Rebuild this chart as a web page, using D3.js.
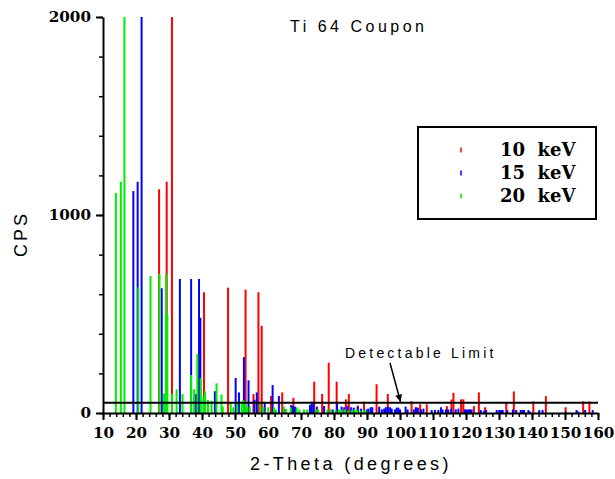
<!DOCTYPE html>
<html>
<head>
<meta charset="utf-8">
<script src="https://cdnjs.cloudflare.com/ajax/libs/d3/7.8.5/d3.min.js"></script>
<style>
  body { margin: 0; background: #fff; }
  .tick text { font-family: "DejaVu Serif", serif; font-weight: bold; font-size: 15.2px; fill: #000; }
  .lbl { font-family: "Liberation Sans", Arial, sans-serif; fill: #000; }
</style>
</head>
<body>
<div class="chart"></div>
<script>
// [2-theta, cps]; the tall ones are clipped at 2000
const peaks10 = [
  [27.0, 1130], [29.3, 1168], [30.9, 2000], [40.6, 610], [47.9, 633], [53.2, 623],
  [55.6, 96], [57.1, 610], [58.1, 440], [60.9, 86], [64.3, 104], [67.7, 77],
  [74.0, 158], [76.4, 96], [78.4, 254], [80.8, 158], [83.6, 69], [84.5, 96],
  [87.2, 38], [89.1, 57], [92.9, 145], [96.3, 96], [103.5, 59], [104.8, 30],
  [106.1, 44], [108.1, 44], [114.2, 35], [115.6, 68], [116.2, 102], [118.5, 69],
  [119.2, 69], [122.4, 35], [123.9, 104], [125.8, 29], [132.2, 52], [134.5, 109],
  [140.4, 59], [144.2, 85], [150.2, 29], [155.5, 59], [157.4, 59]
];
const peaks15 = [
  [19.2, 1121], [20.5, 1168], [21.7, 2000], [27.8, 630], [33.3, 677], [36.7, 677],
  [38.2, 96], [39.1, 677], [39.5, 481], [43.9, 110], [50.2, 177], [51.2, 104],
  [52.7, 282], [54.1, 165], [55.9, 67], [56.6, 104], [59.0, 52], [61.4, 141],
  [63.3, 86], [65.2, 20], [67.0, 40], [67.5, 35], [68.2, 32], [72.7, 40], [73.2, 57],
  [73.7, 52], [74.8, 32], [77.0, 35], [79.6, 18], [80.9, 49], [82.3, 32], [83.1, 29],
  [84.1, 35], [85.2, 29], [86.0, 27], [87.2, 32], [88.2, 22], [89.9, 18], [90.4, 22],
  [91.1, 29], [91.6, 29], [93.7, 32], [94.5, 18], [95.2, 22], [95.7, 29], [96.3, 32],
  [97.0, 29], [97.5, 22], [98.5, 18], [99.0, 27], [99.5, 27], [100.0, 18], [101.7, 32],
  [102.3, 18], [104.2, 18], [104.8, 27], [105.4, 27], [106.4, 18], [107.1, 22],
  [109.6, 15], [110.6, 15], [111.6, 15], [112.4, 29], [112.9, 18], [113.9, 18],
  [114.6, 18], [115.5, 22], [116.9, 18], [117.7, 22], [119.7, 18], [120.2, 18],
  [120.7, 18], [121.2, 18], [121.7, 18], [124.5, 15], [125.5, 12], [126.1, 15],
  [129.3, 15], [130.1, 15], [130.6, 15], [131.1, 15], [132.5, 15], [134.2, 18],
  [135.2, 15], [136.6, 15], [137.2, 15], [137.6, 15], [138.9, 15], [139.4, 7],
  [142.2, 15], [143.2, 15], [150.2, 7], [153.5, 15], [154.0, 7], [156.1, 15], [158.4, 15]
];
const peaks20 = [
  [13.9, 1111], [15.4, 1168], [16.5, 2000], [20.7, 635], [24.4, 692], [27.1, 702],
  [28.5, 99], [29.1, 702], [29.5, 500], [30.9, 96], [32.3, 120], [34.1, 96],
  [36.7, 192], [37.6, 120], [38.6, 298], [39.6, 177], [40.4, 83], [40.9, 110],
  [41.8, 66], [42.9, 62], [44.4, 150], [45.9, 94], [46.3, 32], [48.7, 52], [49.5, 29],
  [50.7, 52], [52.0, 47], [52.5, 66], [53.1, 60], [53.7, 32], [54.5, 32], [57.6, 49],
  [58.6, 29], [60.1, 29], [61.8, 29], [62.4, 18], [64.8, 32], [65.5, 18], [66.9, 29],
  [68.7, 29], [69.5, 18], [70.9, 18], [71.9, 18], [74.5, 18], [75.2, 18], [78.0, 18],
  [79.0, 18], [80.5, 15], [81.5, 18], [82.3, 15], [83.3, 18], [84.3, 12], [85.4, 15],
  [86.3, 18], [87.0, 15], [88.0, 12], [89.0, 15], [89.6, 12]
];

const series = [
  { name: "10  keV", color: "#ff0000", data: peaks10 },
  { name: "15  keV", color: "#0000ff", data: peaks15 },
  { name: "20  keV", color: "#00ee00", data: peaks20 }
];

const detect_limit = 52;
const x_major = d3.range(10, 161, 10);
const x_minor = d3.range(10, 161, 2);
const y_major = [0, 1000, 2000];
const y_minor = d3.range(0, 2001, 200);

const width = 615, height = 479;
const margin = { top: 17, right: 17, bottom: 66, left: 103 };

const svg = d3.select(".chart").append("svg")
    .attr("width", width)
    .attr("height", height);

const x_scale = d3.scaleLinear().domain([10, 160]).range([margin.left, width - margin.right]);
const y_scale = d3.scaleLinear().domain([0, 2000]).range([height - margin.bottom, margin.top]);

// peaks
series.forEach(function(s) {
    svg.append("g").selectAll("line")
        .data(s.data)
        .enter()
        .append("line")
        .attr("x1", function(d) { return x_scale(d[0]); })
        .attr("x2", function(d) { return x_scale(d[0]); })
        .attr("y1", y_scale(0))
        .attr("y2", function(d) { return y_scale(Math.min(d[1], 2000)); })
        .attr("stroke", s.color)
        .attr("stroke-width", 2);
});

// axes: minor ticks first, then major with labels
svg.append("g")
    .attr("transform", "translate(0," + y_scale(0) + ")")
    .call(d3.axisBottom(x_scale).tickValues(x_minor).tickSize(4).tickSizeOuter(0).tickFormat(""))
    .call(function(g) { g.select(".domain").remove(); })
    .selectAll("line").attr("stroke-width", 1.5);

svg.append("g")
    .attr("class", "x_axis")
    .attr("transform", "translate(0," + y_scale(0) + ")")
    .call(d3.axisBottom(x_scale).tickValues(x_major).tickSize(7).tickSizeOuter(0).tickPadding(7).tickFormat(d3.format("d")))
    .call(function(g) {
        g.select(".domain").attr("stroke-width", 2);
        g.selectAll("line").attr("stroke-width", 2);
    });

svg.append("g")
    .attr("transform", "translate(" + x_scale(10) + ",0)")
    .call(d3.axisLeft(y_scale).tickValues(y_minor).tickSize(4).tickSizeOuter(0).tickFormat(""))
    .call(function(g) { g.select(".domain").remove(); })
    .selectAll("line").attr("stroke-width", 1.5);

svg.append("g")
    .attr("class", "y_axis")
    .attr("transform", "translate(" + x_scale(10) + ",0)")
    .call(d3.axisLeft(y_scale).tickValues(y_major).tickSize(7).tickSizeOuter(0).tickPadding(5).tickFormat(d3.format("d")))
    .call(function(g) {
        g.select(".domain").attr("stroke-width", 2);
        g.selectAll("line").attr("stroke-width", 2);
    });

// detectable limit
svg.append("line")
    .attr("x1", x_scale(10)).attr("x2", x_scale(160))
    .attr("y1", y_scale(detect_limit)).attr("y2", y_scale(detect_limit))
    .attr("stroke", "#000").attr("stroke-width", 2);

svg.append("defs").append("marker")
    .attr("id", "arrow")
    .attr("viewBox", "0 0 10 10")
    .attr("refX", 10).attr("refY", 5)
    .attr("markerWidth", 9).attr("markerHeight", 7)
    .attr("markerUnits", "userSpaceOnUse")
    .attr("orient", "auto")
    .append("path").attr("d", "M0,0 L10,5 L0,10 z").attr("fill", "#000");

svg.append("line")
    .attr("x1", 390).attr("y1", 363)
    .attr("x2", 400.5).attr("y2", y_scale(detect_limit) - 1)
    .attr("stroke", "#000").attr("stroke-width", 1.5)
    .attr("marker-end", "url(#arrow)");

svg.append("text").attr("class", "lbl")
    .attr("x", 345).attr("y", 358)
    .attr("font-size", 14).attr("letter-spacing", 3.2)
    .text("Detectable Limit");

// titles
svg.append("text").attr("class", "lbl")
    .attr("x", 290).attr("y", 32)
    .attr("font-size", 16).attr("letter-spacing", 3.5)
    .text("Ti 64 Coupon");

svg.append("text").attr("class", "lbl")
    .attr("x", 250).attr("y", 470)
    .attr("font-size", 18).attr("letter-spacing", 3.4)
    .text("2-Theta (degrees)");

svg.append("text").attr("class", "lbl")
    .attr("transform", "translate(27,257) rotate(-90)")
    .attr("font-size", 18).attr("letter-spacing", 3)
    .text("CPS");

// legend
const legend = svg.append("g");
legend.append("rect")
    .attr("x", 418).attr("y", 127).attr("width", 178).attr("height", 92)
    .attr("fill", "none").attr("stroke", "#000").attr("stroke-width", 2);

series.forEach(function(s, i) {
    const cy = 150 + i * 23;
    legend.append("line")
        .attr("x1", 461).attr("x2", 461)
        .attr("y1", cy - 2.5).attr("y2", cy + 2.5)
        .attr("stroke", s.color).attr("stroke-width", 1.5);
    legend.append("text")
        .attr("x", 500).attr("y", cy + 6)
        .attr("font-family", "DejaVu Serif, serif")
        .attr("font-weight", "bold")
        .attr("font-size", 18)
        .attr("xml:space", "preserve")
        .style("white-space", "pre")
        .text(s.name);
});
</script>
</body>
</html>
